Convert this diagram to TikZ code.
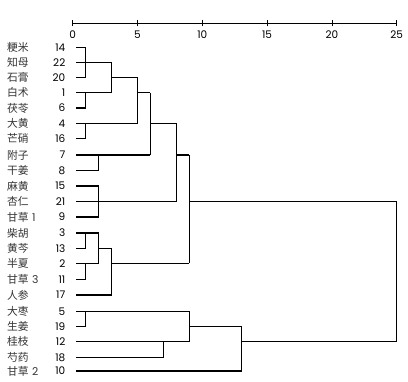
\documentclass[tikz,border=0pt]{standalone}
\usepackage{fontspec}
\setmainfont{Poppins}
\newfontfamily\numf{Poppins}
\newfontfamily\cjk{Noto Sans CJK SC}
\begin{document}
\begin{tikzpicture}[x=1pt,y=-1pt,
  tree/.style={draw=black, line width=1.1pt},
  axisline/.style={draw=black, line width=0.8pt},
  nm/.style={anchor=west, inner sep=0pt, text=black!80, font=\cjk\fontsize{10.8}{10.8}\selectfont},
  num/.style={anchor=east, inner sep=0pt, text=black, font=\numf\fontsize{10.5}{10.5}\selectfont},
  tick/.style={anchor=center, inner sep=0pt, text=black, font=\numf\fontsize{10.5}{10.5}\selectfont}]
\useasboundingbox (0,0) rectangle (408,382);

% rows: leaf start points, names and case numbers
\foreach \i/\y/\name/\n in {1/47.3/粳米/14, 2/62.5/知母/22, 3/77.5/石膏/20, 4/92.8/白术/1,
  5/108/茯苓/6, 6/123.3/大黄/4, 7/138.5/芒硝/16,
  8/155/附子/7, 9/170.5/干姜/8, 10/186/麻黄/15, 11/201.7/杏仁/21,
  12/217/{甘草\hspace{0.3em}{\numf 1}}/9,
  13/233/柴胡/3, 14/248.3/黄芩/13, 15/263.5/半夏/2,
  16/279.3/{甘草\hspace{0.3em}{\numf 3}}/11, 17/295/人参/17,
  18/311.5/大枣/5, 19/326.5/生姜/19, 20/341.8/桂枝/12, 21/357.3/芍药/18,
  22/371/{甘草\hspace{0.3em}{\numf 2}}/10}{
  \coordinate (L\i) at (76,\y);
  \node[nm] (name\i) at (7,\y) {\name};
  \node[num] (num\i) at (65.5,\y) {\n};
}

% merge levels on the distance scale
\foreach \d in {0,1,2,3,5,6,7,8,9,10,13,15,20,25}{
  \coordinate (m\d) at ({72.7+12.96*\d},23.3);
}

% axis
\draw[axisline] (m0) -- (m25);
\foreach \d in {0,5,10,15,20,25}{
  \draw[axisline] ([yshift=-3pt]m\d) -- ([yshift=3pt]m\d);
  \node[tick] (t\d) at ([yshift=-11pt]m\d) {\d};
}

% cluster 14,22,20 (level 1)
\draw[tree] (L1) -- (L1-|m1) -- (L3-|m1) -- (L3);
\draw[tree] (L2) -- (L2-|m3);
% cluster 1,6 (level 1)
\draw[tree] (L5) -- (L5-|m1) -- (L4-|m1);
\draw[tree] (L4) -- (L4-|m3);
% level 3
\draw[tree] (L2-|m3) -- (L4-|m3);
\draw[tree] (L3-|m3) -- (L3-|m5);
% cluster 4,16 (level 1)
\draw[tree] (L7) -- (L7-|m1) -- (L6-|m1);
\draw[tree] (L6) -- (L6-|m5);
% level 5
\draw[tree] (L3-|m5) -- (L6-|m5);
\draw[tree] (L4-|m5) -- (L4-|m6);
% cluster 7,8 (level 2)
\draw[tree] (L9) -- (L9-|m2) -- (L8-|m2);
\draw[tree] (L8) -- (L8-|m6);
% level 6
\draw[tree] (L4-|m6) -- (L8-|m6);
\draw[tree] (L6-|m6) -- (L6-|m8);
% cluster 15,21,9 (level 2)
\draw[tree] (L10) -- (L10-|m2) -- (L12-|m2) -- (L12);
\draw[tree] (L11) -- (L11-|m8);
% level 8
\draw[tree] (L6-|m8) -- (L11-|m8);
\draw[tree] (L8-|m8) -- (L8-|m9);
% cluster 3,13 and 2,11 (level 1)
\draw[tree] (L14) -- (L14-|m1) -- (L13-|m1);
\draw[tree] (L13) -- (L13-|m2);
\draw[tree] (L16) -- (L16-|m1) -- (L15-|m1);
\draw[tree] (L15) -- (L15-|m2);
% level 2
\draw[tree] (L13-|m2) -- (L15-|m2);
\draw[tree] (L14-|m2) -- (L14-|m3);
% level 3 with 17
\draw[tree] (L17) -- (L17-|m3) -- (L14-|m3);
\draw[tree] (L15-|m3) -- (L15-|m9);
% level 9
\draw[tree] (L8-|m9) -- (L15-|m9);
\draw[tree] (L11-|m9) -- (L11-|m25);
% cluster 5,19 (level 1)
\draw[tree] (L19) -- (L19-|m1) -- (L18-|m1);
\draw[tree] (L18) -- (L18-|m9);
% cluster 12,18 (level 7)
\draw[tree] (L21) -- (L21-|m7) -- (L20-|m7);
\draw[tree] (L20) -- (L20-|m9);
% level 9
\draw[tree] (L18-|m9) -- (L20-|m9);
\draw[tree] (L19-|m9) -- (L19-|m13);
% level 13 with 10
\draw[tree] (L22) -- (L22-|m13) -- (L19-|m13);
\draw[tree] (L20-|m13) -- (L20-|m25);
% final merge
\draw[tree] (L11-|m25) -- (L20-|m25);
\end{tikzpicture}
\end{document}
